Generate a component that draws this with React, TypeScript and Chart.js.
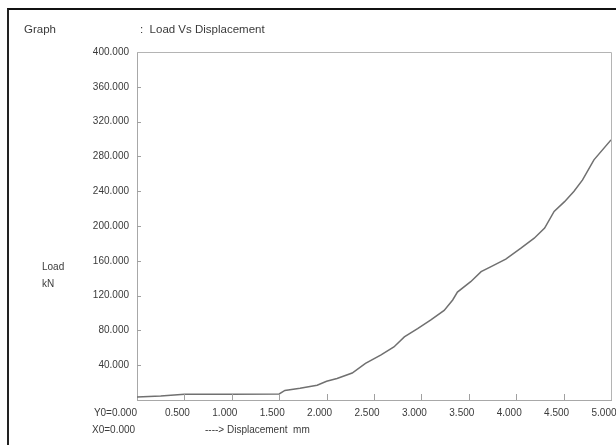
import React, { useEffect, useRef } from "react";
import { Chart, registerables } from "chart.js";

Chart.register(...registerables);

const dispMM = [0.0, 0.25, 0.5, 1.0, 1.5, 1.56, 1.72, 1.9, 2.0, 2.11, 2.27, 2.41, 2.57, 2.71, 2.82, 2.96, 3.1, 3.24, 3.33, 3.38, 3.52, 3.63, 3.73, 3.89, 4.05, 4.19, 4.3, 4.4, 4.51, 4.61, 4.7, 4.82, 5.0];
const loadKN = [3.5, 4.5, 6.5, 6.5, 7, 11, 13.5, 17, 21.5, 24.7, 31, 42, 51.5, 61, 72.6, 82, 92, 103, 115, 124, 136, 147.5, 153, 162, 174.5, 186, 197.6, 216.7, 228, 240, 253, 276, 299];

const X_MIN = 0;
const X_MAX = 5;
const X_STEP = 0.5;
const Y_MIN = 0;
const Y_MAX = 400;
const Y_STEP = 40;

const FONT = '"Liberation Sans", Arial, sans-serif';
const TEXT = "#3a3a3a";

const frameAndTicks = {
  id: "frameAndTicks",
  afterDraw(chart: any) {
    const { ctx, chartArea, scales } = chart;
    const { left, right, top, bottom } = chartArea;
    ctx.save();
    ctx.strokeStyle = "#b4b4b4";
    ctx.lineWidth = 1;
    ctx.beginPath();
    ctx.moveTo(left, top + 0.5);
    ctx.lineTo(right + 0.5, top + 0.5);
    ctx.lineTo(right + 0.5, bottom);
    ctx.stroke();
    ctx.strokeStyle = "#a0a0a0";
    ctx.beginPath();
    for (let v = Y_MIN + Y_STEP; v < Y_MAX; v += Y_STEP) {
      const py = Math.round(scales.y.getPixelForValue(v)) + 0.5;
      ctx.moveTo(left, py);
      ctx.lineTo(left + 4, py);
    }
    for (let v = X_MIN + X_STEP; v < X_MAX; v += X_STEP) {
      const px = Math.round(scales.x.getPixelForValue(v)) + 0.5;
      ctx.moveTo(px, bottom);
      ctx.lineTo(px, bottom - 6);
    }
    ctx.stroke();
    ctx.restore();
  },
};

export default function App() {
  const ref = useRef<HTMLCanvasElement | null>(null);

  useEffect(() => {
    if (!ref.current) return;
    const points = dispMM.map((x, i) => ({ x, y: loadKN[i] }));
    const chart = new Chart(ref.current, {
      type: "line",
      data: {
        datasets: [
          {
            data: points,
            borderColor: "#707070",
            borderWidth: 1.5,
            pointRadius: 0,
            tension: 0,
            fill: false,
          },
        ],
      },
      options: {
        animation: false,
        responsive: false,
        devicePixelRatio: 1,
        layout: { padding: { left: 0, right: 5, top: 52, bottom: 0 } },
        plugins: { legend: { display: false }, tooltip: { enabled: false }, title: { display: false } },
        scales: {
          x: {
            type: "linear",
            min: X_MIN,
            max: X_MAX,
            grid: { display: false, drawTicks: false },
            border: { display: true, color: "#a8a8a8", width: 1 },
            ticks: {
              stepSize: X_STEP,
              autoSkip: false,
              maxRotation: 0,
              padding: 7,
              labelOffset: -7,
              color: TEXT,
              font: { family: FONT, size: 10 },
              callback: (v: any) => (Number(v) === 0 ? "" : Number(v).toFixed(3)),
            },
            afterFit: (s: any) => {
              s.height = 45;
              s.paddingLeft = 0;
              s.paddingRight = 0;
            },
          },
          y: {
            type: "linear",
            min: Y_MIN,
            max: Y_MAX,
            grid: { display: false, drawTicks: false },
            border: { display: true, color: "#a8a8a8", width: 1 },
            ticks: {
              stepSize: Y_STEP,
              autoSkip: false,
              padding: 8,
              color: TEXT,
              font: { family: FONT, size: 10 },
              callback: (v: any) => (Number(v) === 0 ? "" : Number(v).toFixed(3)),
            },
            afterFit: (s: any) => {
              s.width = 137;
              s.paddingTop = 0;
              s.paddingBottom = 0;
            },
          },
        },
      },
      plugins: [frameAndTicks],
    });
    return () => chart.destroy();
  }, []);

  const txt = (style: React.CSSProperties): React.CSSProperties => ({
    position: "absolute",
    fontFamily: FONT,
    color: TEXT,
    whiteSpace: "pre",
    margin: 0,
    ...style,
  });

  return (
    <div style={{ position: "absolute", left: 0, top: 0, width: 616, height: 445, overflow: "hidden", background: "#fff" }}>
      <div style={{ position: "absolute", left: 7, top: 8, width: 640, height: 460, borderTop: "2px solid #111", borderLeft: "2px solid #222" }} />
      <canvas ref={ref} width={616} height={445} style={{ position: "absolute", left: 0, top: 0, width: 616, height: 445 }} />
      <div style={txt({ left: 24, top: 22, fontSize: 11.5, lineHeight: "14px" })}>Graph</div>
      <div style={txt({ left: 140, top: 22, fontSize: 11.5, lineHeight: "14px" })}>{":  Load Vs Displacement"}</div>
      <div style={txt({ left: 42, top: 260, fontSize: 10, lineHeight: "14px" })}>Load</div>
      <div style={txt({ left: 42, top: 277, fontSize: 10, lineHeight: "14px" })}>kN</div>
      <div style={txt({ left: 60, width: 77, textAlign: "right", top: 406, fontSize: 10, lineHeight: "14px" })}>Y0=0.000</div>
      <div style={txt({ left: 92, top: 423, fontSize: 10, lineHeight: "14px" })}>X0=0.000</div>
      <div style={txt({ left: 205, top: 423, fontSize: 10, lineHeight: "14px" })}>{"----> Displacement  mm"}</div>
    </div>
  );
}
